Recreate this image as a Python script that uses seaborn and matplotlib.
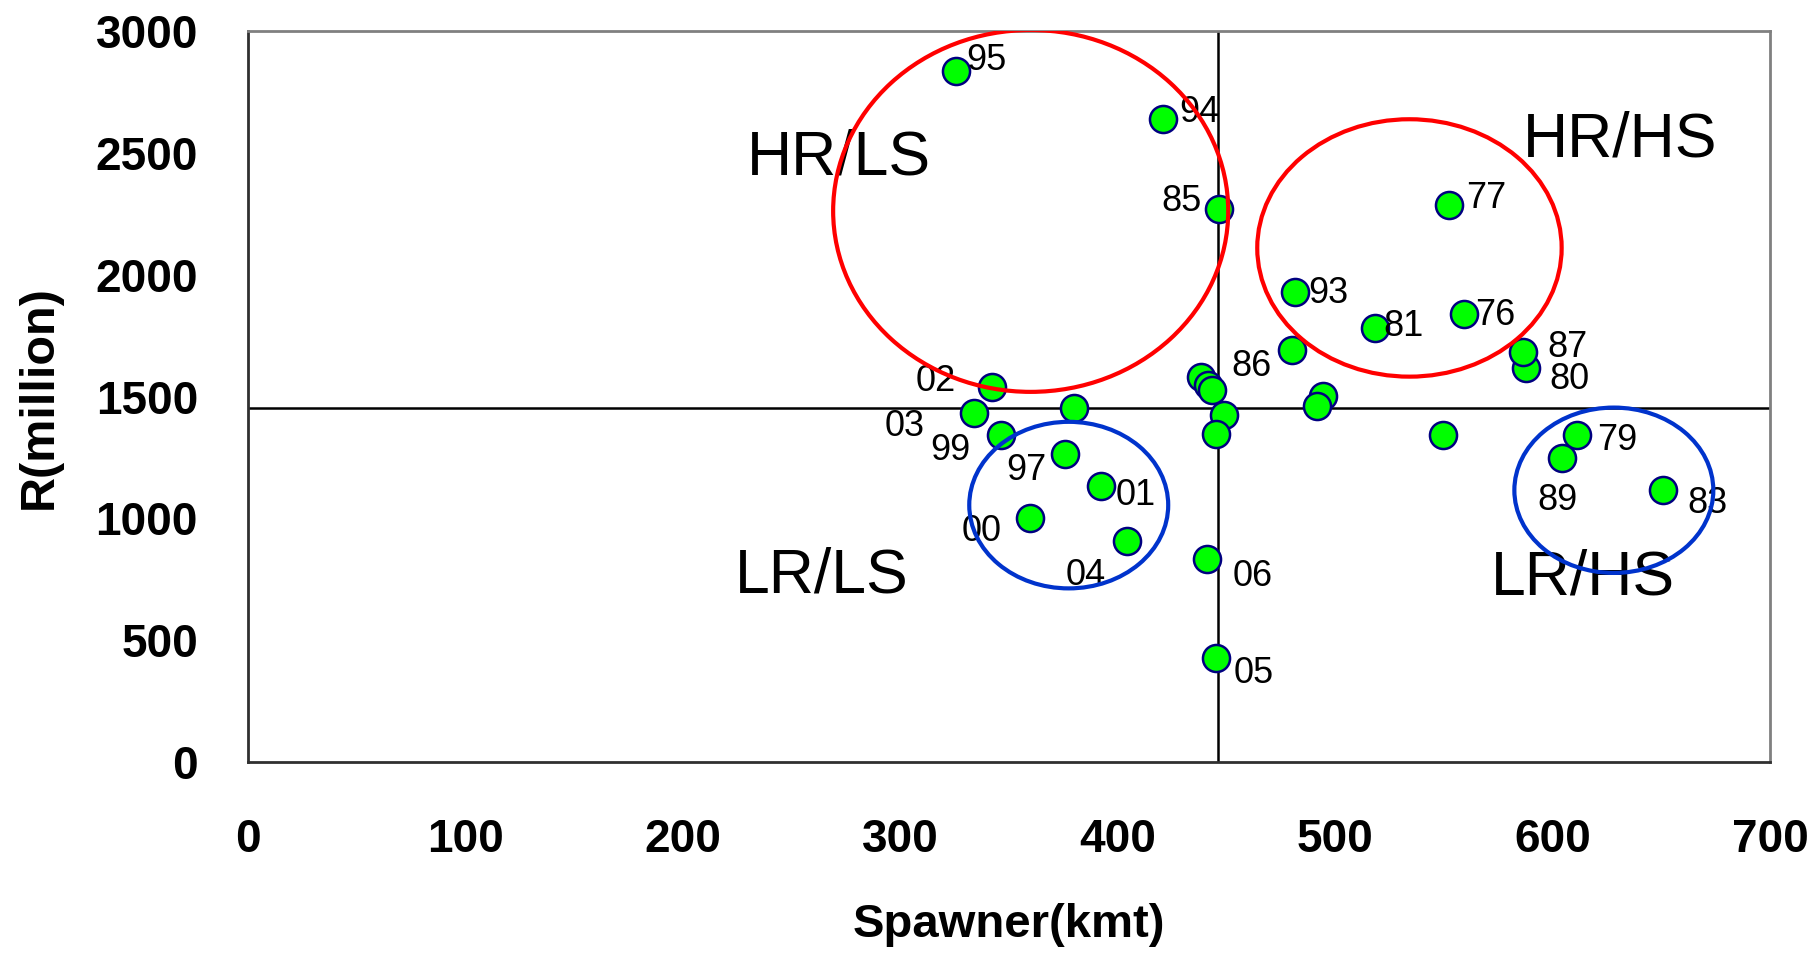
import matplotlib
matplotlib.use("Agg")
import matplotlib.pyplot as plt
from matplotlib.patches import Ellipse
import pandas as pd
import seaborn as sns

# year labels ("" = point not labelled in the original)
years = ["76", "77", "79", "80", "81", "83", "85", "86", "87", "89",
         "93", "94", "95", "97", "99", "00", "01", "02", "03", "04",
         "05", "06", "", "", "", "", "", "", "", "", ""]
spawner = [559.4, 552.5, 611.1, 587.8, 518.2, 650.6, 446.6, 480.3, 586.5, 604.2,
           481.7, 421.0, 325.6, 375.8, 346.2, 359.7, 392.3, 342.0, 333.9, 404.4,
           445.2, 440.9, 549.7, 438.3, 441.7, 443.5, 449.0, 445.0, 494.3, 491.5,
           379.9]
recruits = [1841, 2286, 1342, 1616, 1784, 1119, 2272, 1691, 1684, 1250,
            1930, 2639, 2836, 1264, 1342, 1003, 1133, 1540, 1434, 908,
            426, 832, 1342, 1581, 1547, 1527, 1424, 1349, 1502, 1461,
            1452]

mean_s = 446.0
mean_r = 1455.0

quadrants = ["HR/LS", "HR/HS", "LR/LS", "LR/HS"]

df = pd.DataFrame({"year": years, "S": spawner, "R": recruits})

sns.set_style("white")
plt.rcParams['font.family'] = ['Liberation Sans', 'DejaVu Sans']
plt.rcParams['text.color'] = 'black'
plt.rcParams['axes.labelcolor'] = 'black'
plt.rcParams['xtick.color'] = 'black'
plt.rcParams['ytick.color'] = 'black'

fig = plt.figure(figsize=(18.07, 9.59), dpi=100)
ax = fig.add_axes([0.1372, 0.2054, 0.8423, 0.7618])

ax.axvline(mean_s, color='black', lw=1.8, zorder=1)
ax.axhline(mean_r, color='black', lw=1.8, zorder=1)

sns.scatterplot(data=df, x="S", y="R", ax=ax, s=380, color='#00ff00',
                edgecolor='#000080', linewidth=1.8, zorder=3, legend=False)

# label offsets in points
offs = {"95": (22, 8), "94": (26, 5), "85": (-27, 5), "77": (27, 5),
        "93": (24, -1), "81": (21, 1), "76": (22, -1), "87": (32, 3),
        "80": (31, -8), "86": (-29, -12), "02": (-40, 4), "03": (-50, -10),
        "99": (-36, -11), "97": (-28, -12), "01": (25, -7), "00": (-35, -10),
        "04": (-30, -25), "06": (33, -12), "05": (27, -11), "79": (29, -4),
        "89": (-3, -31), "83": (32, -10)}
for _, row in df.iterrows():
    if row["year"] == "":
        continue
    dx, dy = offs[row["year"]]
    ax.annotate(row["year"], (row["S"], row["R"]), xytext=(dx, dy),
                textcoords='offset points', ha='center', va='center',
                fontsize=26, color='black', zorder=4)

qpos = [(272, 2480), (631, 2556), (264, 762), (614, 757)]
for q, (qx, qy) in zip(quadrants, qpos):
    ax.text(qx, qy, q, fontsize=45, ha='center', va='center', color='black', zorder=4)

# group ellipses
for (cx, cy, w, h, c) in [(360, 2263, 181.7, 1486, '#ff0000'),
                          (534.2, 2111, 140, 1057, '#ff0000'),
                          (377.5, 1055, 91.5, 684, '#0033cc'),
                          (628.2, 1116, 91.5, 679, '#0033cc')]:
    ax.add_patch(Ellipse((cx, cy), w, h, fill=False, edgecolor=c, lw=3, zorder=5))

ax.set_xlim(0, 700)
ax.set_ylim(0, 3000)
ax.set_xticks(range(0, 701, 100))
ax.set_yticks(range(0, 3001, 500))
ax.tick_params(axis='both', direction='in', length=11.5, width=0.8, color='#808080',
               labelcolor='black', labelsize=33)
ax.tick_params(axis='x', pad=40)
ax.tick_params(axis='y', pad=36)
for lab in ax.get_xticklabels() + ax.get_yticklabels():
    lab.set_fontweight('bold')

for side in ['top', 'right']:
    ax.spines[side].set_color('#808080')
    ax.spines[side].set_linewidth(2)
for side in ['left', 'bottom']:
    ax.spines[side].set_color('#303030')
    ax.spines[side].set_linewidth(2)

ax.set_xlabel("Spawner(kmt)", fontsize=34, fontweight='bold', labelpad=30)
ax.set_ylabel("R(million)", fontsize=35, fontweight='bold', labelpad=24)

fig.savefig("out.png", dpi=100)
